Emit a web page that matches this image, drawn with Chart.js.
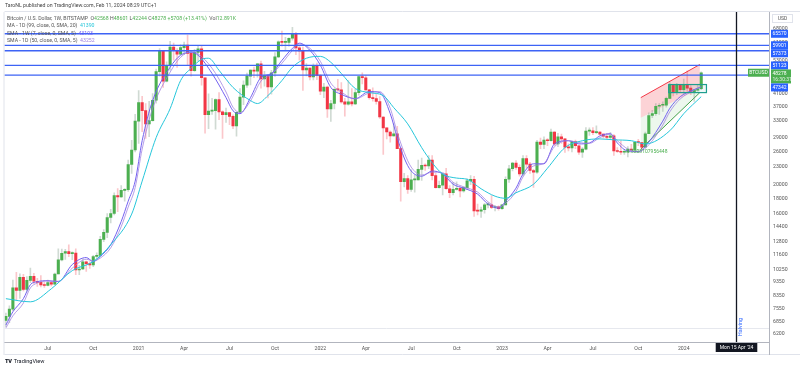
<!DOCTYPE html>
<html>
<head>
<meta charset="utf-8">
<script src="https://cdn.jsdelivr.net/npm/chart.js@4/dist/chart.umd.min.js"></script>
<style>
  html, body { margin: 0; padding: 0; background: #fff; }
  #wrap { position: relative; width: 800px; height: 370px; overflow: hidden;
          font-family: Roboto, "Liberation Sans", sans-serif; }
  #chart { position: absolute; left: 0; top: 0; }
  .t { position: absolute; white-space: nowrap; font-size: 5.2px; line-height: 7px; color: #555; }
  .g { color: #4caf50; }
  .c { color: #26c6da; }
  .p { color: #6f5cf5; }
  .l { color: #9c7ee0; }
  #logo { position: absolute; left: 5px; top: 358px; font-size: 5.6px; color: #131722; white-space: nowrap; }
  #logo b { font-weight: 900; letter-spacing: -0.3px; margin-right: 2px; }
</style>
</head>
<body>
<div id="wrap">
  <canvas id="chart" width="800" height="370"></canvas>
  <div class="t" style="left:5px;top:2px;color:#444">TaroNL published on TradingView.com, Feb 11, 2024 08:29 UTC+1</div>
  <div class="t" style="left:7px;top:14.5px">Bitcoin / U.S. Dollar, 1W, BITSTAMP &nbsp;O<span class="g">42568</span> H<span class="g">48601</span> L<span class="g">42244</span> C<span class="g">48278</span> <span class="g">+5708 (+13.41%)</span> &nbsp;Vol<span class="g">12.891K</span></div>
  <div class="t" style="left:7px;top:22px">MA - 1D (99, close, 0, SMA, 20) &nbsp;<span class="c">41390</span></div>
  <div class="t" style="left:7px;top:29.5px">SMA - 1W (7, close, 0, SMA, 5) &nbsp;<span class="p">43193</span></div>
  <div class="t" style="left:7px;top:37px">SMA - 1D (50, close, 0, SMA, 5) &nbsp;<span class="l">43252</span></div>
  <div id="logo"><b>TV</b>TradingView</div>
</div>
<script>
// weekly BTCUSD (Bitstamp), week 0 = Mon 13 Apr 2020, week 199 = Mon 5 Feb 2024
const open = [
  6900, 7120, 7540, 8900, 8730, 9670, 8790, 9450, 9750, 9380,
  9300, 9120, 9070, 9290, 9170, 9930, 11100, 11690, 11850, 11650,
  11700, 10250, 10330, 10920, 10770, 10670, 11390, 11500, 13030, 13770,
  15480, 15970, 18400, 18180, 19150, 19270, 23480, 26300, 33000, 38200,
  35830, 32270, 33140, 38900, 48700, 57540, 45170, 51200, 59100, 57520,
  55900, 58800, 60000, 56200, 49100, 56620, 58300, 46400, 34700, 35700,
  35800, 39100, 35500, 34700, 35300, 34250, 31780, 35400, 39850, 43800,
  47000, 49300, 48850, 51750, 46000, 47250, 43200, 48200, 54700, 61500,
  61300, 61300, 63300, 65500, 58700, 57300, 49400, 50100, 46700, 50800,
  47300, 41800, 43100, 36300, 37900, 42400, 42200, 38400, 37700, 38400,
  37800, 41300, 46800, 46400, 42200, 39700, 39400, 38500, 34100, 31300,
  30300, 29400, 29900, 26600, 20500, 21000, 19300, 20800, 20800, 22600,
  23300, 23200, 24300, 21500, 19550, 19950, 21800, 19400, 18800, 19300,
  19450, 19070, 19570, 20630, 20900, 16300, 16280, 16450, 17100, 17100,
  16750, 16830, 16600, 17100, 20900, 22700, 23750, 22950, 21800, 24600,
  23550, 22400, 22100, 28000, 27500, 28450, 28300, 30300, 27600, 29200,
  28700, 26900, 26750, 28100, 27200, 25850, 26500, 30500, 30600, 30150,
  30300, 29800, 29300, 29050, 29400, 26100, 26000, 25850, 25850, 26500,
  26250, 27950, 27900, 26900, 29900, 34500, 35000, 37100, 37400, 37450,
  39450, 43800, 41400, 43700, 42300, 43900, 42800, 41600, 42100, 42568
];
const high = [
  7300, 7740, 9470, 10070, 9950, 9900, 9740, 10400, 9980, 9590,
  9800, 9300, 9470, 9340, 10010, 12100, 12080, 12050, 12480, 11820,
  12090, 10640, 11180, 10990, 10950, 11490, 11720, 13350, 14080, 15960,
  16490, 18800, 19420, 19900, 19420, 24300, 28400, 34800, 41950, 40100,
  37850, 38530, 41000, 49700, 58350, 57540, 52600, 61800, 61000, 58400,
  60200, 61400, 64900, 57000, 58000, 59600, 59500, 46400, 40900, 39500,
  39300, 41300, 35800, 36600, 35300, 34700, 35400, 42600, 45300, 48100,
  49400, 50500, 51900, 52900, 48800, 47300, 49200, 56600, 62000, 67000,
  63700, 63500, 69000, 66300, 59300, 59100, 51900, 50200, 51800, 52100,
  47600, 44400, 43500, 38900, 42600, 45800, 44700, 39500, 45400, 42600,
  42400, 46900, 48200, 47200, 42400, 42900, 40800, 40000, 34200, 31300,
  30600, 32400, 31700, 26800, 21900, 21500, 22500, 21600, 24300, 24700,
  23600, 25200, 25200, 21900, 20600, 21800, 22800, 19900, 20400, 20500,
  19700, 19700, 21000, 21500, 21400, 17200, 16800, 17300, 17400, 18400,
  17000, 16950, 17100, 21300, 23300, 23900, 24200, 23400, 25200, 25200,
  23900, 22600, 28400, 28900, 29200, 28800, 31000, 30400, 30000, 29800,
  28800, 27600, 28200, 28450, 27300, 26800, 31400, 31300, 31400, 31800,
  30400, 29900, 30000, 30200, 29700, 26800, 28200, 26400, 27000, 27500,
  28000, 28600, 27900, 30300, 35200, 35900, 37900, 37900, 38400, 39900,
  44700, 43800, 44400, 43800, 45900, 49000, 43600, 42200, 43800, 48601
];
const low = [
  6560, 6780, 7450, 8100, 8200, 8700, 8630, 9280, 9200, 9000,
  8980, 8940, 9040, 9040, 9140, 9930, 11000, 11130, 11380, 11110,
  9880, 9880, 10270, 10140, 10380, 10520, 11200, 11400, 12800, 13220,
  14830, 15800, 16200, 18110, 17600, 19000, 21900, 25900, 27730, 30400,
  28800, 29200, 33000, 37990, 47000, 43000, 44950, 49250, 53300, 50300,
  55500, 55600, 51200, 47000, 48800, 53000, 43800, 30000, 31100, 34800,
  31000, 33400, 28800, 32700, 32100, 31100, 29300, 35200, 37600, 43000,
  43900, 46400, 46600, 42800, 43400, 39600, 40800, 46900, 54300, 59500,
  57800, 59500, 62300, 55600, 53300, 42000, 47100, 45600, 45600, 45700,
  40600, 39700, 34000, 32900, 36300, 41700, 38000, 34300, 37400, 37200,
  37600, 40500, 44200, 42100, 39200, 38600, 37700, 33700, 25400, 28700,
  28000, 29300, 26600, 17600, 19700, 18700, 19000, 18900, 20800, 20700,
  22400, 22700, 20800, 19500, 19500, 18500, 19300, 18100, 18500, 19200,
  18200, 18900, 19300, 20050, 15600, 15800, 15500, 16000, 16700, 16600,
  16300, 16400, 16500, 17100, 20400, 22300, 22600, 21400, 21400, 22800,
  21900, 19600, 21900, 26600, 26600, 27200, 28200, 27200, 27000, 27700,
  25800, 26100, 25900, 26600, 25400, 24800, 26300, 29500, 29700, 29900,
  29600, 28900, 28600, 28700, 25200, 25800, 25400, 25400, 24900, 26100,
  26000, 27200, 26500, 26900, 29900, 33900, 34500, 34800, 35600, 36800,
  39400, 40200, 40600, 41400, 40800, 41700, 40600, 38500, 41800, 42244
];
const close = [
  7120, 7540, 8900, 8730, 9670, 8790, 9450, 9750, 9380, 9300,
  9120, 9070, 9290, 9170, 9930, 11100, 11690, 11850, 11650, 11700,
  10250, 10330, 10920, 10770, 10670, 11390, 11500, 13030, 13770, 15480,
  15970, 18400, 18180, 19150, 19270, 23480, 26300, 33000, 38200, 35830,
  32270, 33140, 38900, 48700, 57540, 45170, 51200, 59100, 57520, 55900,
  58800, 60000, 56200, 49100, 56620, 58300, 46400, 34700, 35700, 35800,
  39100, 35500, 34700, 35300, 34250, 31780, 35400, 39850, 43800, 47000,
  49300, 48850, 51750, 46000, 47250, 43200, 48200, 54700, 61500, 61300,
  61300, 63300, 65500, 58700, 57300, 49400, 50100, 46700, 50800, 47300,
  41800, 43100, 36300, 37900, 42400, 42200, 38400, 37700, 38400, 37800,
  41300, 46800, 46400, 42200, 39700, 39400, 38500, 34100, 31300, 30300,
  29400, 29900, 26600, 20500, 21000, 19300, 20800, 20800, 22600, 23300,
  23200, 24300, 21500, 19550, 19950, 21800, 19400, 18800, 19300, 19450,
  19070, 19570, 20630, 20900, 16300, 16280, 16450, 17100, 17100, 16750,
  16830, 16600, 17100, 20900, 22700, 23750, 22950, 21800, 24600, 23550,
  22400, 22100, 28000, 27500, 28450, 28300, 30300, 27600, 29200, 28700,
  26900, 26750, 28100, 27200, 25850, 26500, 30500, 30600, 30150, 30300,
  29800, 29300, 29050, 29400, 26100, 26000, 25850, 25850, 26500, 26250,
  27950, 27900, 26900, 29900, 34500, 35000, 37100, 37400, 37450, 39450,
  43800, 41400, 43700, 42300, 43900, 42800, 41600, 42100, 42568, 48278
];

// indicator lines at these weeks
const maWeeks = [0, 7, 13, 19, 25, 30, 36, 39, 43, 47, 50, 53, 56, 58, 61, 65, 70, 72, 75, 79,
  82, 86, 90, 93, 96, 100, 104, 108, 111, 115, 119, 122, 125, 129, 132, 136, 140, 143, 146, 151,
  155, 160, 165, 170, 174, 179, 183, 190, 194, 199];
const ma99d = [8180, 7980, 8840, 10200, 10950, 12500, 15900, 20600, 29000, 36400, 45400, 50000, 53600, 54100, 49200, 43000, 38800, 37900, 40350, 45400,
  50400, 54100, 54900, 52400, 48000, 42650, 41300, 40350, 36700, 32300, 26800, 23800, 21800, 21100, 20900, 19400, 18300, 18000, 18800, 20100,
  22800, 26800, 28300, 28700, 28500, 28300, 27600, 30600, 35000, 40000];

const smaWeeks = [0, 2, 5, 7, 9, 12, 15, 19, 23, 25, 27, 30, 33, 35, 37, 39, 42, 47, 50, 53,
  55, 59, 63, 65, 67, 70, 73, 76, 79, 82, 84, 87, 90, 93, 96, 100, 104, 107, 110, 112,
  114, 116, 119, 122, 125, 128, 131, 135, 138, 141, 143, 146, 148, 151, 154, 157, 161, 164, 167, 170,
  173, 175, 178, 181, 184, 188, 190, 193, 197, 199];
const sma7w = [6650, 7380, 8180, 9130, 9350, 9420, 9350, 10700, 11300, 10950, 11400, 12500, 15000, 17600, 20600, 28300, 38800, 50400, 55400, 56700,
  55400, 48000, 39700, 35800, 35000, 39700, 46500, 48000, 53200, 58500, 60900, 57600, 51200, 43000, 40750, 39400, 41650, 41300, 35000, 29000,
  24700, 22300, 21400, 22300, 21800, 20100, 19500, 18600, 17200, 16650, 17600, 19500, 21800, 23600, 23600, 27600, 28300, 27600, 27800, 29400,
  29900, 27800, 26100, 26000, 28000, 33000, 36500, 40000, 42300, 43200];
const sma50d = [6500, 7150, 7900, 8900, 9250, 9400, 9380, 10400, 11150, 11000, 11250, 12200, 14400, 16800, 19600, 26500, 36500, 48500, 54500, 56900,
  56000, 50000, 41500, 36800, 35300, 38700, 45200, 47600, 52000, 57500, 60500, 58500, 52800, 44500, 41500, 39300, 41200, 41600, 36500, 30200,
  25800, 23000, 21600, 22100, 22000, 20400, 19700, 18900, 17500, 16800, 17300, 19000, 21300, 23200, 23700, 27000, 28300, 27900, 27700, 29000,
  29800, 28300, 26500, 25900, 27400, 32000, 35500, 39300, 42100, 43250];

// horizontal levels drawn on the chart
const levelPrices = [65570, 59901, 57373, 51123, 47342];

// drawings: rising channel and consolidation box (week, price)
const channelWeeks = [181.7, 198.6];
const channelTop = [39700, 51500];
const channelMid = [33900, 42600];
const channelLow = [26500, 41300];
const boxWeeks = [189.7, 200.5];
const boxPrices = [41300, 44000];
const noteWeek = 177.7, notePrice = 25950, noteText = "4.3208107956448";
const halvingWeek = 209;
const halvingLabel = "Mon 15 Apr '24";
const baseLinePrice = 6480;

// axes
const priceTicks = [6200, 6850, 7550, 8350, 9350, 10250, 11600, 12800, 14400, 16000, 18000, 20000,
  23000, 26000, 29000, 33000, 37000, 41000, 47000, 53000, 61000, 68000];
const tickWeeks = [12, 25, 38, 51, 64, 77, 90, 103, 116, 129, 142, 155, 168, 181, 194];
const tickLabels = ["Jul", "Oct", "2021", "Apr", "Jul", "Oct", "2022", "Apr", "Jul", "Oct", "2023", "Apr", "Jul", "Oct", "2024"];

const FONT = 'Roboto, "Liberation Sans", sans-serif';
const UP = "#4caf50", DN = "#f23645";
const UP_WICK = "rgba(120,150,130,0.35)", DN_WICK = "rgba(242,54,69,0.28)";
const LEVEL = "#3d63f5";

const isUp = i => close[i] >= open[i];
const bodies = close.map((c, i) => ({ x: i, y: [open[i], c] }));
const wicks = close.map((c, i) => ({ x: i, y: [low[i], high[i]] }));
const pts = (xs, ys) => xs.map((x, i) => ({ x, y: ys[i] }));

const levelSets = levelPrices.map(v => ({
  type: "line", data: [{ x: -5, y: v }, { x: 230, y: v }],
  borderColor: LEVEL, borderWidth: 1.3, pointRadius: 0, order: 0,
}));

function drawings(chart) {
  const { ctx, chartArea: a, scales: { x, y } } = chart;
  ctx.save();
  ctx.beginPath(); ctx.rect(a.left, a.top, a.right - a.left, a.bottom - a.top); ctx.clip();
  const X = channelWeeks.map(w => x.getPixelForValue(w));
  const T = channelTop.map(v => y.getPixelForValue(v));
  const M = channelMid.map(v => y.getPixelForValue(v));
  const L = channelLow.map(v => y.getPixelForValue(v));
  // red part
  ctx.fillStyle = "rgba(242,54,69,0.22)";
  ctx.beginPath(); ctx.moveTo(X[0], T[0]); ctx.lineTo(X[1], T[1]); ctx.lineTo(X[1], M[1]); ctx.lineTo(X[0], M[0]); ctx.closePath(); ctx.fill();
  // green part
  ctx.fillStyle = "rgba(76,175,80,0.10)";
  ctx.beginPath(); ctx.moveTo(X[0], M[0]); ctx.lineTo(X[1], M[1]); ctx.lineTo(X[1], L[1]); ctx.lineTo(X[0], L[0]); ctx.closePath(); ctx.fill();
  ctx.lineWidth = 1;
  ctx.strokeStyle = DN;
  ctx.beginPath(); ctx.moveTo(X[0], T[0]); ctx.lineTo(X[1], T[1]); ctx.stroke();
  ctx.strokeStyle = "#43a047";
  ctx.beginPath(); ctx.moveTo(X[0], L[0]); ctx.lineTo(X[1], L[1]); ctx.stroke();
  ctx.restore();
}

function overlay(chart) {
  const { ctx, chartArea: a, scales: { x, y } } = chart;
  ctx.save();
  // frame
  ctx.strokeStyle = "#e0e3eb"; ctx.lineWidth = 1;
  ctx.beginPath();
  ctx.moveTo(a.left, a.top - 0.5); ctx.lineTo(800, a.top - 0.5);
  ctx.moveTo(a.left - 0.5, a.top); ctx.lineTo(a.left - 0.5, 355);
  ctx.moveTo(a.left, 354.5); ctx.lineTo(800, 354.5);
  ctx.stroke();
  ctx.strokeStyle = "#b2b5be";
  ctx.beginPath(); ctx.moveTo(a.right + 0.5, a.bottom); ctx.lineTo(a.right + 0.5, 355); ctx.stroke();
  // faint base line
  const by = Math.round(y.getPixelForValue(baseLinePrice)) + 0.5;
  ctx.strokeStyle = "#e6e8ee";
  ctx.beginPath(); ctx.moveTo(a.left, by); ctx.lineTo(a.right, by); ctx.stroke();

  // consolidation box
  const bx0 = x.getPixelForValue(boxWeeks[0]), bx1 = x.getPixelForValue(boxWeeks[1]);
  const by0 = y.getPixelForValue(boxPrices[1]), by1 = y.getPixelForValue(boxPrices[0]);
  ctx.fillStyle = "rgba(38,166,154,0.08)";
  ctx.fillRect(bx0, by0, bx1 - bx0, by1 - by0);
  ctx.strokeStyle = "#1f9e8f"; ctx.lineWidth = 1.2;
  ctx.strokeRect(bx0, by0, bx1 - bx0, by1 - by0);

  // note text
  ctx.font = `5px ${FONT}`; ctx.fillStyle = "#4caf50"; ctx.textBaseline = "middle"; ctx.textAlign = "left";
  ctx.fillText(noteText, x.getPixelForValue(noteWeek), y.getPixelForValue(notePrice));

  // halving line
  const hx = Math.round(x.getPixelForValue(halvingWeek)) + 0.5;
  ctx.strokeStyle = "#131722"; ctx.lineWidth = 1.3;
  ctx.beginPath(); ctx.moveTo(hx, a.top); ctx.lineTo(hx, a.bottom); ctx.stroke();
  ctx.save();
  ctx.translate(hx + 4, 327); ctx.rotate(-Math.PI / 2);
  ctx.font = `5.5px ${FONT}`; ctx.fillStyle = "#2962ff"; ctx.textAlign = "center";
  ctx.fillText("Halving", 0, 0);
  ctx.restore();
  ctx.font = `5px ${FONT}`;
  const lw = ctx.measureText(halvingLabel).width + 8;
  ctx.fillStyle = "#131722"; ctx.fillRect(hx - lw / 2, a.bottom + 1, lw, 9);
  ctx.fillStyle = "#fff"; ctx.textAlign = "center";
  ctx.fillText(halvingLabel, hx, a.bottom + 5.8);

  // USD box
  ctx.strokeStyle = "#e0e3eb"; ctx.lineWidth = 1;
  ctx.fillStyle = "#fff";
  ctx.fillRect(772, 14, 21, 9); ctx.strokeRect(772.5, 14.5, 20, 8);
  ctx.fillStyle = "#555"; ctx.fillText("USD", 782.5, 18.8);

  // price badges on the axis
  const last = close[close.length - 1];
  const tags = levelPrices.map(v => ({ v, y: y.getPixelForValue(v), h: 8, color: "#2962ff", text: String(v) }));
  tags.push({ v: last, y: y.getPixelForValue(last), h: 14, top: 4.5, color: UP, text: String(last), sub: "16:30:31" });
  tags.sort((p, q) => p.y - q.y);
  let prevBottom = -1e9;
  tags.forEach(t => {
    const up = t.top || t.h / 2;
    let top = t.y - up;
    if (top < prevBottom) top = prevBottom;
    t.boxTop = top; prevBottom = top + t.h;
  });
  ctx.textAlign = "left";
  tags.forEach(t => {
    const w = t.sub ? 20 : 17;
    ctx.fillStyle = t.color;
    ctx.fillRect(771, t.boxTop, w, t.h);
    ctx.fillStyle = "#fff";
    ctx.fillText(t.text, 772.5, t.boxTop + 4.2);
    if (t.sub) {
      ctx.fillStyle = "rgba(255,255,255,0.85)";
      ctx.fillText(t.sub, 772.5, t.boxTop + 10.2);
    }
  });
  // symbol tag left of the axis
  const ly = y.getPixelForValue(last);
  ctx.fillStyle = UP; ctx.fillRect(748, ly - 4, 21, 8);
  ctx.fillStyle = "#fff"; ctx.textAlign = "center";
  ctx.fillText("BTCUSD", 758.5, ly + 0.2);
  ctx.restore();
}

new Chart(document.getElementById("chart"), {
  type: "bar",
  data: {
    datasets: [
      { data: wicks, grouped: false, barThickness: 1, borderWidth: 0,
        backgroundColor: c => isUp(c.dataIndex) ? UP_WICK : DN_WICK, order: 5 },
      { data: bodies, grouped: false, barThickness: 2.4, borderWidth: 0, minBarLength: 1,
        backgroundColor: c => isUp(c.dataIndex) ? UP : DN, order: 4 },
      { type: "line", data: pts(maWeeks, ma99d), borderColor: "#26c6da", borderWidth: 1,
        pointRadius: 0, cubicInterpolationMode: "monotone", order: 1 },
      { type: "line", data: pts(smaWeeks, sma50d), borderColor: "rgba(156,126,224,0.75)", borderWidth: 1,
        pointRadius: 0, cubicInterpolationMode: "monotone", order: 1 },
      { type: "line", data: pts(smaWeeks, sma7w), borderColor: "#7361f0", borderWidth: 1,
        pointRadius: 0, cubicInterpolationMode: "monotone", order: 1 },
      ...levelSets,
    ],
  },
  options: {
    responsive: false,
    animation: false,
    layout: { padding: { left: 4.5, top: 12, right: 0, bottom: 15 } },
    plugins: { legend: { display: false }, tooltip: { enabled: false } },
    scales: {
      x: {
        type: "linear", min: -0.4, max: 218.4, offset: false,
        afterBuildTicks: s => { s.ticks = tickWeeks.map(v => ({ value: v })); },
        afterFit: s => { s.height = 13; },
        grid: { display: false, drawTicks: false },
        border: { color: "#b2b5be" },
        ticks: { autoSkip: false, maxRotation: 0, padding: 3.5, color: "#555",
                 font: { size: 5.2, family: FONT }, callback: (v, i) => tickLabels[i] },
      },
      y: {
        type: "logarithmic", position: "right", min: 5820, max: 77800,
        afterBuildTicks: s => { s.ticks = priceTicks.map(v => ({ value: v })); },
        afterFit: s => { s.width = 31; },
        grid: { display: false, drawTicks: false },
        border: { color: "#b2b5be" },
        ticks: { autoSkip: false, padding: 4, color: "#555",
                 font: { size: 5.2, family: FONT }, callback: v => String(v) },
      },
    },
  },
  plugins: [{
    id: "tvDrawings",
    beforeDatasetsDraw: drawings,
    afterDraw: overlay,
  }],
});
</script>
</body>
</html>
